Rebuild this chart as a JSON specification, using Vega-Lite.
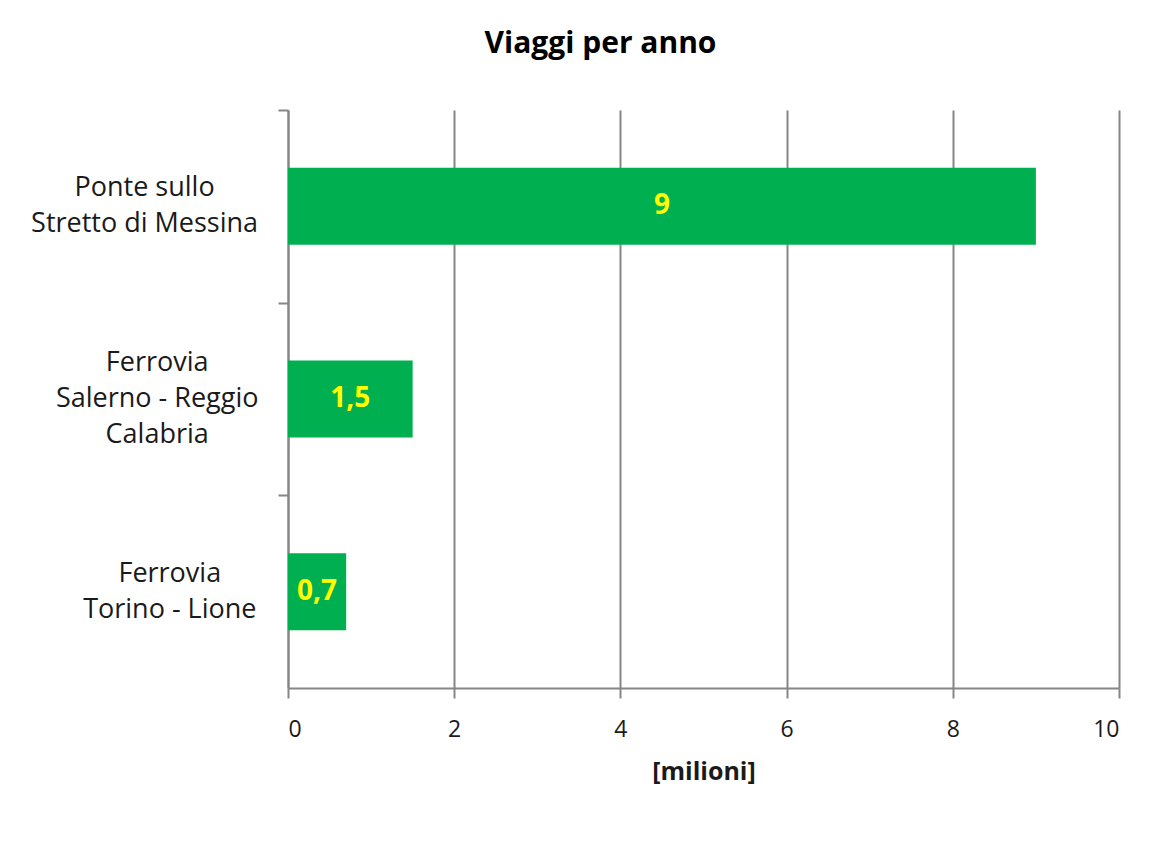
{
  "$schema": "https://vega.github.io/schema/vega-lite/v6.json",
  "width": 831,
  "height": 578,
  "autosize": {"type": "none"},
  "padding": {"left": 288, "top": 110, "right": 54, "bottom": 179},
  "background": "white",
  "title": {
    "text": "Viaggi per anno",
    "font": "Open Sans",
    "fontSize": 30,
    "fontWeight": "bold",
    "color": "#000000",
    "anchor": "middle",
    "dx": -103,
    "offset": 50
  },
  "config": {
    "view": {"stroke": null},
    "font": "Open Sans"
  },
  "data": {
    "values": [
      {"percorso": "Ponte sullo|Stretto di Messina", "viaggi": 9},
      {"percorso": "Ferrovia|Salerno - Reggio|Calabria", "viaggi": 1.5},
      {"percorso": "Ferrovia|Torino - Lione", "viaggi": 0.7}
    ]
  },
  "transform": [
    {"calculate": "datum.viaggi / 2", "as": "meta"},
    {"calculate": "replace(format(datum.viaggi, ''), '.', ',')", "as": "etichetta"}
  ],
  "encoding": {
    "y": {
      "field": "percorso",
      "type": "nominal",
      "sort": null,
      "scale": {"paddingInner": 0.6, "paddingOuter": 0.3},
      "axis": {
        "title": null,
        "labels": false,
        "ticks": true,
        "tickOffset": -96.35,
        "domainColor": "#868686",
        "domainWidth": 2,
        "tickColor": "#868686",
        "tickWidth": 2,
        "tickSize": 10,
        "grid": false
      }
    }
  },
  "layer": [
    {
      "mark": {"type": "bar", "color": "#00B050"},
      "encoding": {
        "x": {
          "field": "viaggi",
          "type": "quantitative",
          "scale": {"domain": [0, 10], "nice": false},
          "axis": {
            "title": "[milioni]",
            "titleFont": "Open Sans",
            "titleFontSize": 25,
            "titleFontWeight": "bold",
            "titleColor": "#1a1a1a",
            "titlePadding": 18,
            "values": [0, 2, 4, 6, 8, 10],
            "format": "d",
            "labelFont": "Open Sans",
            "labelFontSize": 23,
            "labelColor": "#1a1a1a",
            "labelPadding": 20,
            "domainColor": "#868686",
            "domainWidth": 2,
            "tickColor": "#868686",
            "tickWidth": 2,
            "tickSize": 10,
            "grid": true,
            "gridColor": "#868686",
            "gridWidth": 2
          }
        }
      }
    },
    {
      "mark": {
        "type": "text",
        "color": "#1a1a1a",
        "font": "Open Sans",
        "fontSize": 27,
        "align": "center",
        "baseline": "middle",
        "lineBreak": "|",
        "lineHeight": 36,
        "dx": {"expr": "-30 - 6.3 * max(length(split(datum.percorso, '|')[0]), length(split(datum.percorso, '|')[1] || ''), length(split(datum.percorso, '|')[2] || ''))"},
        "dy": {"expr": "-18 * (length(split(datum.percorso, '|')) - 1)"}
      },
      "encoding": {
        "x": {"datum": 0},
        "text": {"field": "percorso"}
      }
    },
    {
      "mark": {
        "type": "text",
        "color": "#FFFF00",
        "font": "Open Sans",
        "fontSize": 28,
        "fontWeight": "bold",
        "align": "center",
        "baseline": "middle"
      },
      "encoding": {
        "x": {"field": "meta", "type": "quantitative"},
        "text": {"field": "etichetta"}
      }
    }
  ]
}
